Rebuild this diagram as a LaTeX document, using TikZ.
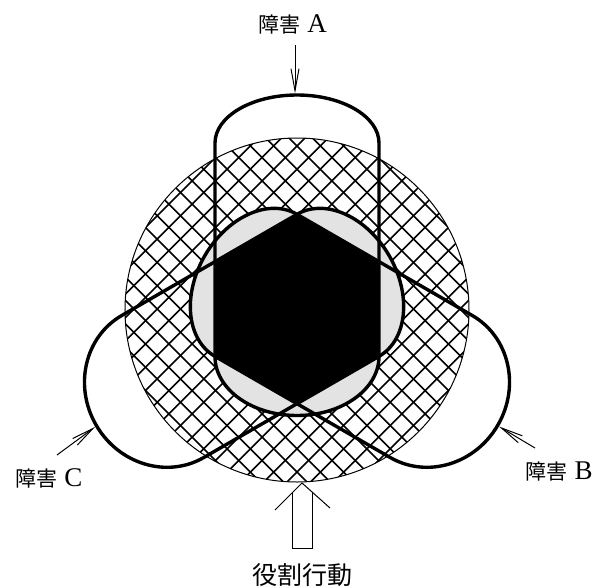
\documentclass[tikz,border=0pt]{standalone}
\usepackage{fontspec}
\setmainfont{Liberation Serif}
\newfontfamily\cjk{Noto Sans CJK JP}
\usepackage{tikz}
\usetikzlibrary{arrows.meta}

\newcommand{\obst}[1]{{\cjk 障害}\hspace{7pt}{\fontsize{27}{27}\selectfont #1}}

\begin{document}
\begin{tikzpicture}[x=1pt, y=1pt,
  >={Straight Barb[length=22pt, width=8pt]},
  lane/.style={line width=3.4pt, line join=round},
  hatch/.style={line width=1.6pt},
  thinline/.style={line width=1pt},
  stip/.style={fill=black!11},
  lab/.style={inner sep=0pt, font=\fontsize{21}{25}\selectfont}]

  \useasboundingbox (-297,-278) rectangle (299,309);

  % Cross-hatched circle
  \begin{scope}
    \clip (0,-1) circle (172);
    \foreach \k in {-12,...,12} {
      \draw[hatch] (\k*23.3-200,-200) -- ++(400,400);
      \draw[hatch] (\k*23.3+200,-200) -- ++(-400,400);
    }
  \end{scope}
  \draw[thinline] (0,-1) circle (172);

  % Inner ends of the lanes and the hexagon
  \foreach \r in {0,120,240}
    \fill[stip, rotate=\r] (-82,-47.5) arc[start angle=180, end angle=360, x radius=82, y radius=59] -- cycle;
  \fill (90:94.7) -- (150:94.7) -- (210:94.7) -- (270:94.7) -- (330:94.7) -- (30:94.7) -- cycle;

  % Three lanes A, B, C
  \foreach \r/\s/\h in {0/166/48, -120/155/77, 120/155/77}
    \draw[lane, rotate=\r] (82,-47.5) -- (82,\s)
      arc[start angle=0, end angle=180, x radius=82, y radius=\h]
      -- (-82,-47.5) arc[start angle=180, end angle=360, x radius=82, y radius=59] -- cycle;

  % Define coordinates for labels and arrows
  \node[lab] (A) at (-4.5,285) {\obst{A}};
  \node[lab] (B) at (262,-162.5) {\obst{B}};
  \node[lab] (C) at (-248,-169.5) {\obst{C}};
  \node[lab, font=\fontsize{25}{30}\selectfont] (R) at (5.5,-266) {\cjk 役割行動};
  \coordinate (a0) at (-2,264);
  \coordinate (a) at (-2,215.5);
  \coordinate (b0) at (238,-139);
  \coordinate (b) at (202,-117.5);
  \coordinate (c0) at (-240,-146);
  \coordinate (c) at (-202,-118);

  % Draw arrows
  \draw[->, thinline] (a0) -- (a);
  \draw[->, thinline] (b0) -- (b);
  \draw[->, thinline] (c0) -- (c);

  % Hollow arrow for the role behaviour
  \draw[thinline] (-22,-201) -- (5,-174) -- (33,-199);
  \draw[thinline] (-5,-184) -- (-5,-239) -- (15,-239) -- (15,-183);
\end{tikzpicture}
\end{document}
